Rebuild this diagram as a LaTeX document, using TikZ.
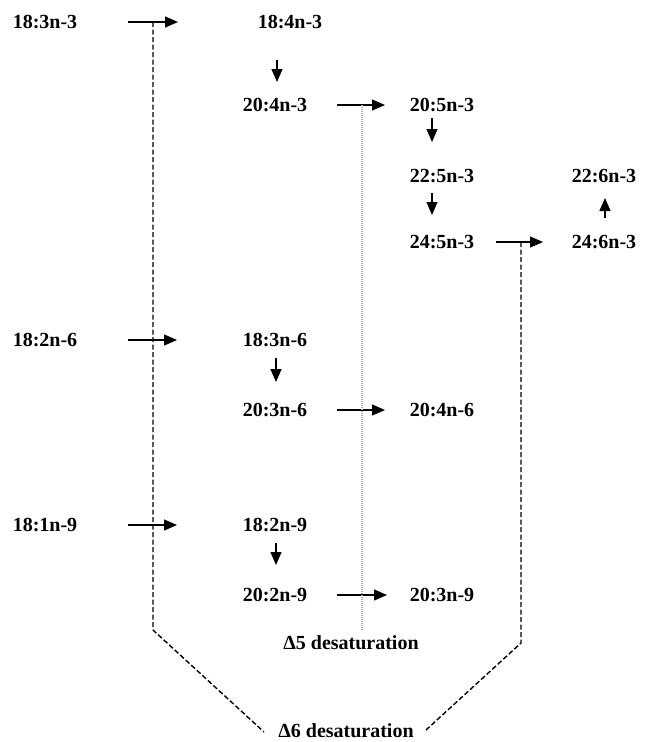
\documentclass[tikz,border=0pt]{standalone}
\usepackage{fontspec}
\setmainfont{Liberation Serif}
\usetikzlibrary{arrows.meta}
\begin{document}
\begin{tikzpicture}[x=1pt,y=-1pt,
  lbl/.style={inner sep=0pt,font=\fontsize{20}{24}\selectfont\bfseries},
  arr/.style={line width=1.2pt,-{Triangle[length=13pt,width=11pt]}},
  dashln/.style={line width=1.4pt,dash pattern=on 5pt off 2.5pt},
  dotln/.style={line width=1.1pt,gray!65,dash pattern=on 1pt off 1pt}]
\useasboundingbox (0,0) rectangle (646,742);
% omega-3 row
\node[lbl] (n1) at (45,22) {18:3n-3};
\node[lbl] (n2) at (290,22) {18:4n-3};
\node[lbl] (n3) at (275,105) {20:4n-3};
\node[lbl] (n4) at (442,105) {20:5n-3};
\node[lbl] (n5) at (442,176) {22:5n-3};
\node[lbl] (n6) at (442,242) {24:5n-3};
\node[lbl] (n7) at (604,242) {24:6n-3};
\node[lbl] (n8) at (604,176) {22:6n-3};
% omega-6
\node[lbl] (n9) at (45,340) {18:2n-6};
\node[lbl] (n10) at (275,340) {18:3n-6};
\node[lbl] (n11) at (275,410) {20:3n-6};
\node[lbl] (n12) at (442,410) {20:4n-6};
% omega-9
\node[lbl] (n13) at (45,525) {18:1n-9};
\node[lbl] (n14) at (275,525) {18:2n-9};
\node[lbl] (n15) at (275,595) {20:2n-9};
\node[lbl] (n16) at (442,595) {20:3n-9};
% labels
\node[lbl] (d5) at (351,643) {Δ5 desaturation};
\node[lbl] (d6) at (346,731) {Δ6 desaturation};
% horizontal arrows
\draw[arr,shorten <=83pt,shorten >=112pt] (n1.center) -- (n2.center);
\draw[arr,shorten <=62pt,shorten >=57pt] (n3.center) -- (n4.center);
\draw[arr,shorten <=54pt,shorten >=61pt] (n6.center) -- (n7.center);
\draw[arr,shorten <=83pt,shorten >=98pt] (n9.center) -- (n10.center);
\draw[arr,shorten <=62pt,shorten >=57pt] (n11.center) -- (n12.center);
\draw[arr,shorten <=83pt,shorten >=98pt] (n13.center) -- (n14.center);
\draw[arr,shorten <=62pt,shorten >=55pt] (n15.center) -- (n16.center);
% vertical arrows
\draw[arr,shorten <=38pt,shorten >=23pt] ([xshift=-13pt]n2.center) -- ([xshift=2pt]n3.center);
\draw[arr,shorten <=13pt,shorten >=34pt] ([xshift=-10pt]n4.center) -- ([xshift=-10pt]n5.center);
\draw[arr,shorten <=17pt,shorten >=27pt] ([xshift=-10pt]n5.center) -- ([xshift=-10pt]n6.center);
\draw[arr,shorten <=24pt,shorten >=22pt] ([xshift=1pt]n7.center) -- ([xshift=1pt]n8.center);
\draw[arr,shorten <=18pt,shorten >=28pt] ([xshift=1pt]n10.center) -- ([xshift=1pt]n11.center);
\draw[arr,shorten <=18pt,shorten >=30pt] ([xshift=1pt]n14.center) -- ([xshift=1pt]n15.center);
% desaturation guide lines
\coordinate (lt) at (153,22);
\coordinate (lb) at (153,630);
\coordinate (le) at (264,732);
\coordinate (rt) at (521,242);
\coordinate (rb) at (521,643);
\coordinate (re) at (426,730);
\coordinate (dt) at (362,105);
\coordinate (db) at (362,630);
\draw[dashln] (lt) -- (lb) -- (le);
\draw[dashln] (rt) -- (rb) -- (re);
\draw[dotln] (dt) -- (db);
\end{tikzpicture}
\end{document}
